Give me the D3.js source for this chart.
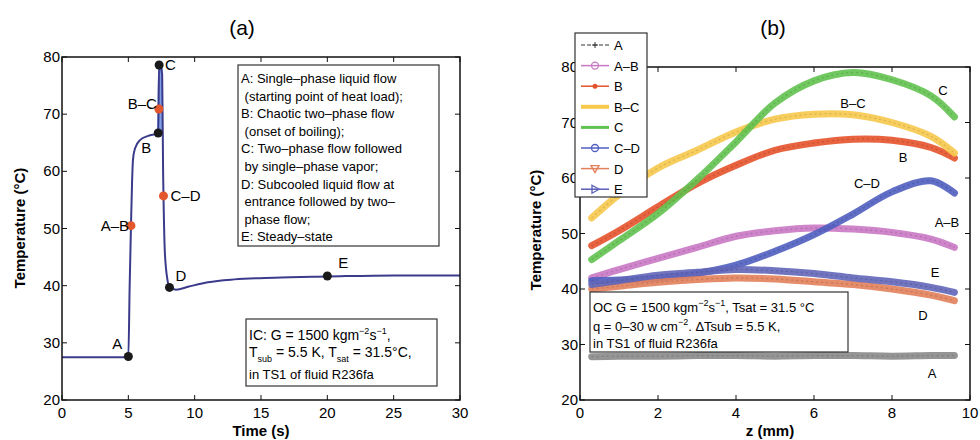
<!DOCTYPE html>
<html><head><meta charset="utf-8">
<script src="https://cdn.jsdelivr.net/npm/d3@7"></script>
<style>body{margin:0;background:#fff}text{font-family:"Liberation Sans",Arial,sans-serif}</style>
</head><body><svg id="c" width="980" height="440"></svg>
<script>
// ---------- Panel (a) data ----------
const timeA = [0,5.0,5.1,5.2,5.28,5.35,5.5,5.9,6.5,7.25,7.32,7.55,7.62,7.65,7.75,7.95,8.1,8.6,9.5,11,13,16,20,25,30];
const tempA = [27.5,27.5,40,50.5,58,62,64,65.5,66.2,66.7,78.6,77,60,55.7,46,41,39.7,39.3,39.8,40.6,41.1,41.4,41.6,41.8,41.8];
const pointsA = [
  {lab:"A",t:5.0,T:27.6,c:"black"},
  {lab:"A\u2013B",t:5.2,T:50.5,c:"orange"},
  {lab:"B",t:7.25,T:66.7,c:"black"},
  {lab:"B\u2013C",t:7.3,T:70.9,c:"orange"},
  {lab:"C",t:7.32,T:78.6,c:"black"},
  {lab:"C\u2013D",t:7.65,T:55.7,c:"orange"},
  {lab:"D",t:8.1,T:39.7,c:"black"},
  {lab:"E",t:20,T:41.7,c:"black"}
];
const ticksXA = [0,5,10,15,20,25,30];
const ticksY = [20,30,40,50,60,70,80];
const legendA = ["A: Single\u2013phase liquid flow"," (starting point of heat load);","B: Chaotic two\u2013phase flow"," (onset of boiling);","C: Two\u2013phase flow followed"," by single\u2013phase vapor;","D: Subcooled liquid flow at"," entrance followed by two\u2013"," phase flow;","E: Steady\u2013state"];

// ---------- Panel (b) data ----------
const zVals = [0.3,1,2,3,4,5,6,7,8,9,9.6];
const serA  = [27.8,27.9,27.9,28,28,27.9,28,28,27.9,28,28];
const serAB = [42,43.5,45.5,47.5,49.5,50.5,51,50.8,50.2,49,47.5];
const serB  = [47.8,50.5,54.8,59,62.3,65,66.3,67,66.8,65.5,63.6];
const serBC = [52.8,57,61.8,65,68.3,70.6,71.5,71.4,70,67.5,64.5];
const serC  = [45.3,48.7,53.6,59.7,66.5,73.5,77.5,79,77.7,74.8,71];
const serCD = [41.5,41.6,42,42.8,44.3,46.8,49.8,53.5,57.5,59.5,57.3];
const serD  = [40,40.5,41.2,41.7,42,41.8,41.3,40.8,40,38.9,37.9];
const serE  = [40.8,41.5,42.5,43,43.5,43.3,42.8,42,41.3,40.3,39.4];
const seriesNames = ["A","A\u2013B","B","B\u2013C","C","C\u2013D","D","E"];
const ticksXB = [0,2,4,6,8,10];

const svg = d3.select("#c");
const colA = "#3b3b8c";

function frame(g, x, y, xt, yt){
  const [x0,x1] = x.range(), [y0,y1] = y.range();
  g.append("rect").attr("x",x0).attr("y",y1).attr("width",x1-x0).attr("height",y0-y1)
   .attr("fill","none").attr("stroke","#111").attr("stroke-width",1.5);
  xt.forEach(v=>{
    g.append("line").attr("x1",x(v)).attr("x2",x(v)).attr("y1",y0).attr("y2",y0-5).attr("stroke","#111");
    g.append("line").attr("x1",x(v)).attr("x2",x(v)).attr("y1",y1).attr("y2",y1+5).attr("stroke","#111");
    g.append("text").attr("x",x(v)).attr("y",y0+18).attr("text-anchor","middle").attr("font-size",15).text(v);
  });
  yt.forEach(v=>{
    g.append("line").attr("x1",x0).attr("x2",x0+5).attr("y1",y(v)).attr("y2",y(v)).attr("stroke","#111");
    g.append("line").attr("x1",x1).attr("x2",x1-5).attr("y1",y(v)).attr("y2",y(v)).attr("stroke","#111");
    g.append("text").attr("x",x0-2).attr("y",y(v)+5).attr("text-anchor","end").attr("font-size",15).text(v);
  });
}

// ---------- Panel (a) ----------
const xa = d3.scaleLinear().domain([0,30]).range([62,460]);
const ya = d3.scaleLinear().domain([20,80]).range([400,57]);
const ga = svg.append("g");
ga.append("text").attr("x",242).attr("y",35).attr("text-anchor","middle").attr("font-size",21).text("(a)");
// light-blue B->C segment
const pb = pointsA[2], pc = pointsA[4];
ga.append("line").attr("x1",xa(pb.t)+1.5).attr("x2",xa(pc.t)+1.5).attr("y1",ya(pb.T)).attr("y2",ya(pc.T))
  .attr("stroke","#809fe4").attr("stroke-width",5);
const lineA = d3.line().x((d,i)=>xa(timeA[i])).y((d,i)=>ya(tempA[i])).curve(d3.curveMonotoneX);
ga.append("path").datum(tempA).attr("d",lineA).attr("fill","none").attr("stroke",colA).attr("stroke-width",2);
frame(ga, xa, ya, ticksXA, ticksY);
pointsA.forEach(p=>{
  ga.append("circle").attr("cx",xa(p.t)).attr("cy",ya(p.T)).attr("r",4.5)
    .attr("fill",p.c==="black"?"#1a1a1a":"#e2572b");
});
const labA = {"A":[-6,-8,"end"],"A\u2013B":[-2,5,"end"],"B":[-7,20,"end"],"B\u2013C":[-2,0,"end"],
  "C":[6,5,"start"],"C\u2013D":[7,5,"start"],"D":[6,-6,"start"],"E":[11,-8,"start"]};
pointsA.forEach(p=>{
  const o = labA[p.lab];
  ga.append("text").attr("x",xa(p.t)+o[0]).attr("y",ya(p.T)+o[1]).attr("text-anchor",o[2]).attr("font-size",15).text(p.lab);
});
// legend box (a)
ga.append("rect").attr("x",238).attr("y",65).attr("width",201).attr("height",181).attr("fill","#fff").attr("stroke","#333").attr("stroke-width",1.2);
legendA.forEach((s,i)=>{
  ga.append("text").attr("x",241).attr("y",83+i*17.6).attr("font-size",13).attr("xml:space","preserve").text(s);
});
// IC box
ga.append("rect").attr("x",246).attr("y",319).attr("width",191).attr("height",67).attr("fill","#fff").attr("stroke","#333").attr("stroke-width",1.2);
const ic1 = ga.append("text").attr("x",249).attr("y",340).attr("font-size",14);
ic1.append("tspan").text("IC: G = 1500 kgm");
ic1.append("tspan").attr("dy",-6).attr("font-size",9).text("\u22122");
ic1.append("tspan").attr("dy",6).text("s");
ic1.append("tspan").attr("dy",-6).attr("font-size",9).text("\u22121");
ic1.append("tspan").attr("dy",6).text(",");
const ic2 = ga.append("text").attr("x",249).attr("y",357).attr("font-size",14);
ic2.append("tspan").text("T");
ic2.append("tspan").attr("dy",5).attr("font-size",9).text("sub");
ic2.append("tspan").attr("dy",-5).text(" = 5.5 K, T");
ic2.append("tspan").attr("dy",5).attr("font-size",9).text("sat");
ic2.append("tspan").attr("dy",-5).text(" = 31.5\u00b0C,");
ga.append("text").attr("x",249).attr("y",379).attr("font-size",13).text("in TS1 of fluid R236fa");
ga.append("text").attr("x",261).attr("y",436).attr("text-anchor","middle").attr("font-size",15).attr("font-weight","bold").text("Time (s)");
ga.append("text").attr("transform","translate(25,228) rotate(-90)").attr("text-anchor","middle").attr("font-size",15).attr("font-weight","bold").text("Temperature (\u00b0C)");

// ---------- Panel (b) ----------
const xb = d3.scaleLinear().domain([0,10]).range([580,970]);
const yb = d3.scaleLinear().domain([20,80]).range([400,67]);
const gb = svg.append("g");
gb.append("text").attr("x",773).attr("y",35).attr("text-anchor","middle").attr("font-size",21).text("(b)");
const seriesVals = [serA,serAB,serB,serBC,serC,serCD,serD,serE];
const seriesCols = ["#8a8a8a","#c978c4","#e5532c","#f6c84c","#62c24f","#4f5ec0","#e2805a","#6266b8"];
const lineB = d3.line().x((d,i)=>xb(zVals[i])).y(d=>yb(d)).curve(d3.curveCatmullRom.alpha(0.5));
seriesVals.forEach((s,k)=>{
  gb.append("path").datum(s).attr("d",lineB).attr("fill","none").attr("stroke",seriesCols[k])
    .attr("stroke-width",7).attr("stroke-linecap","round").attr("opacity",0.9);
  gb.append("path").datum(s).attr("d",lineB).attr("fill","none").attr("stroke",d3.color(seriesCols[k]).darker(0.6))
    .attr("stroke-width",1.2).attr("stroke-dasharray","2,3").attr("opacity",0.6);
});
frame(gb, xb, yb, ticksXB, ticksY);
const labB = [["C",943,95],["B\u2013C",853,108],["B",903,162],["C\u2013D",867,188],["A\u2013B",947,227],["E",935,277],["D",923,320],["A",932,378]];
labB.forEach(l=>gb.append("text").attr("x",l[1]).attr("y",l[2]).attr("text-anchor","middle").attr("font-size",13).text(l[0]));
// OC box
gb.append("rect").attr("x",590).attr("y",292).attr("width",258).attr("height",60).attr("fill","#fff").attr("stroke","#333").attr("stroke-width",1.2);
const oc1 = gb.append("text").attr("x",593).attr("y",312).attr("font-size",13);
oc1.append("tspan").text("OC  G = 1500 kgm");
oc1.append("tspan").attr("dy",-6).attr("font-size",9).text("\u22122");
oc1.append("tspan").attr("dy",6).text("s");
oc1.append("tspan").attr("dy",-6).attr("font-size",9).text("\u22121");
oc1.append("tspan").attr("dy",6).text(", Tsat = 31.5 \u00b0C");
const oc2 = gb.append("text").attr("x",593).attr("y",331).attr("font-size",13);
oc2.append("tspan").text("q = 0\u201330 w cm");
oc2.append("tspan").attr("dy",-6).attr("font-size",9).text("\u22122");
oc2.append("tspan").attr("dy",6).text(". \u0394Tsub = 5.5 K,");
gb.append("text").attr("x",593).attr("y",348).attr("font-size",13).text("in TS1 of fluid R236fa");
// legend (b)
gb.append("rect").attr("x",575).attr("y",33).attr("width",72).attr("height",164).attr("fill","#fff").attr("stroke","#333").attr("stroke-width",1.2);
const legCols = ["#333","#c978c4","#e5532c","#f6c84c","#62c24f","#4f5ec0","#e2805a","#5a5fb8"];
const legW = [1,1.5,1.5,4,3,1.5,1.5,1.5];
seriesNames.forEach((n,i)=>{
  const yy = 45+i*20.6;
  gb.append("line").attr("x1",581).attr("x2",609).attr("y1",yy).attr("y2",yy).attr("stroke",legCols[i]).attr("stroke-width",legW[i]).attr("stroke-dasharray",i===0?"4,2":null);
  const cx=595;
  if(i===0){ gb.append("path").attr("d",`M${cx-3},${yy}h6M${cx},${yy-3}v6`).attr("stroke","#333"); }
  else if(i===1||i===5){ gb.append("circle").attr("cx",cx).attr("cy",yy).attr("r",3.5).attr("fill","none").attr("stroke",legCols[i]).attr("stroke-width",1.3); }
  else if(i===2){ gb.append("circle").attr("cx",cx).attr("cy",yy).attr("r",2.5).attr("fill",legCols[i]); }
  else if(i===6){ gb.append("path").attr("d",`M${cx-4},${yy-3}L${cx+4},${yy-3}L${cx},${yy+4}Z`).attr("fill","none").attr("stroke",legCols[i]).attr("stroke-width",1.3); }
  else if(i===7){ gb.append("path").attr("d",`M${cx-3},${yy-4}L${cx+4},${yy}L${cx-3},${yy+4}Z`).attr("fill","none").attr("stroke",legCols[i]).attr("stroke-width",1.3); }
  gb.append("text").attr("x",614).attr("y",yy+5).attr("font-size",13).text(n);
});
gb.append("text").attr("x",770).attr("y",436).attr("text-anchor","middle").attr("font-size",15).attr("font-weight","bold").text("z (mm)");
gb.append("text").attr("transform","translate(541,230) rotate(-90)").attr("text-anchor","middle").attr("font-size",15).attr("font-weight","bold").text("Temperature (\u00b0C)");
</script></body></html>
